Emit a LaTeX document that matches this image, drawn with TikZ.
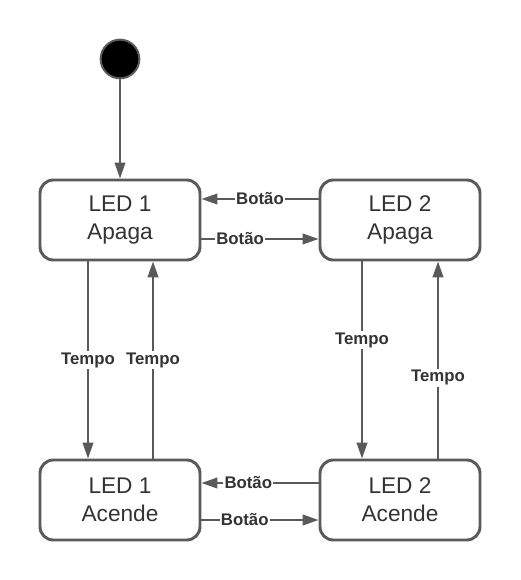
\documentclass[tikz,border=0pt]{standalone}
\usepackage{fontspec}
\setmainfont{Liberation Sans}
\usetikzlibrary{arrows.meta,positioning}
\definecolor{linegray}{HTML}{5A5A5A}
\definecolor{textgray}{HTML}{333333}
\tikzset{
	state/.style={draw=linegray, line width=2.2pt, rounded corners=10pt, minimum width=120pt, minimum height=60pt, align=center, text=textgray, font=\fontsize{17}{21}\selectfont},
	arr/.style={draw=linegray, line width=1.5pt, -{Triangle[length=12pt,width=8pt]}},
	lbl/.style={fill=white, text=textgray, inner sep=1pt, font=\fontsize{12.6}{14}\selectfont\bfseries}
}
\begin{document}
\begin{tikzpicture}[x=0.75pt,y=-0.75pt]
	\useasboundingbox (0,0) rectangle (520,580);
	
	\node[circle, fill=black, draw=linegray, line width=1.5pt, minimum size=29pt, inner sep=0pt] (init) at (120,59) {};
	\node[state] (l1a) at (120,220) {LED 1\\Apaga};
	\node[state] (l2a) at (400,220) {LED 2\\Apaga};
	\node[state] (l1c) at (120,500) {LED 1\\Acende};
	\node[state] (l2c) at (400,500) {LED 2\\Acende};
	
	\draw[arr] (init) -- (l1a);
	% horizontal
	\draw[arr] (l2a.west |- 0,199) -- node[lbl, pos=0.5]{Botão} (l1a.east |- 0,199);
	\draw[arr] (l1a.east |- 0,239) -- node[lbl, pos=0.33]{Botão} (l2a.west |- 0,239);
	\draw[arr] (l2c.west |- 0,483) -- node[lbl, pos=0.6]{Botão} (l1c.east |- 0,483);
	\draw[arr] (l1c.east |- 0,520) -- node[lbl, pos=0.37]{Botão} (l2c.west |- 0,520);
	% vertical
	\draw[arr] (l1a.south -| 88,0) -- node[lbl]{Tempo} (l1c.north -| 88,0);
	\draw[arr] (l1c.north -| 153,0) -- node[lbl]{Tempo} (l1a.south -| 153,0);
	\draw[arr] (l2a.south -| 362,0) -- node[lbl, pos=0.4]{Tempo} (l2c.north -| 362,0);
	\draw[arr] (l2c.north -| 438,0) -- node[lbl, pos=0.41]{Tempo} (l2a.south -| 438,0);
\end{tikzpicture}
\end{document}
